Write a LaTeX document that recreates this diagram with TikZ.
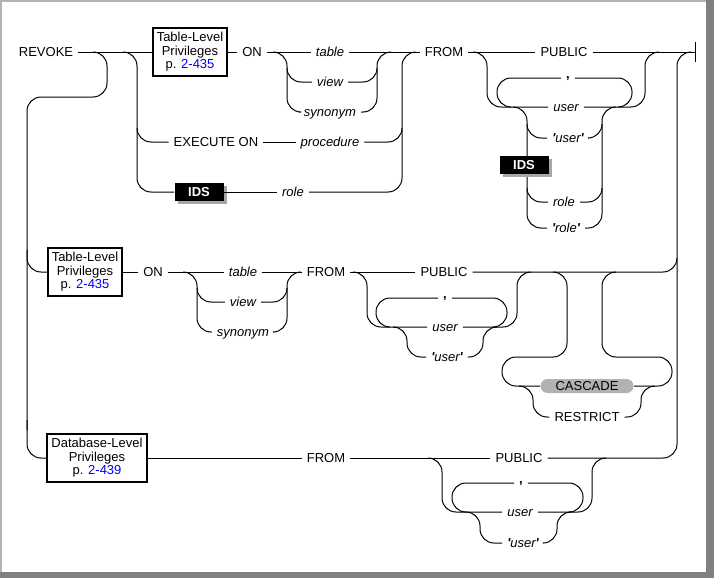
\documentclass[tikz,border=0pt]{standalone}
\usepackage{fontspec}
\setmainfont{Liberation Sans}
\usetikzlibrary{shadows}
\newcommand{\rfont}{\fontsize{9.75}{10.2}\selectfont}
\newcommand{\quoted}[1]{\textbf{\textquotesingle}#1\textbf{\textquotesingle}}

\begin{document}
\begin{tikzpicture}[x=0.75pt,y=-0.75pt,line width=0.75pt,font=\rfont,
  rr/.style={rounded corners=10.5pt},
  kw/.style={inner xsep=3.5pt,inner ysep=0pt,text height=7pt,text depth=0pt},
  var/.style={kw,font=\rfont\itshape},
  sep/.style={kw,text height=0pt,font=\rfont\bfseries},
  ref/.style={draw,line width=1.5pt,align=center,inner xsep=3pt,inner ysep=3.5pt,fill=white},
  ids/.style={fill=black,text=white,font=\rfont\bfseries,minimum width=36.75pt,
    minimum height=13.5pt,inner sep=0pt,
    drop shadow={shadow xshift=2.25pt,shadow yshift=-2.25pt,fill=gray!70,opacity=1}},
  pill/.style={kw,fill=gray!60,rounded corners=5.25pt,minimum width=69.75pt,minimum height=10.5pt}]
\useasboundingbox (0,0) rectangle (714,578);

% frame
\draw[gray!60,line width=1.5pt] (1,578) -- (1,1) -- (706,1);
\fill[gray] (706,0) rectangle (714,578);
\fill[gray] (0,572) rectangle (714,578);

% first row
\node[kw] (revoke) at (46,52) {REVOKE};
\node[ref] (tlpA) at (190,52) {Table-Level\\Privileges\\p. \textcolor{blue}{2-435}};
\node[kw] (onA) at (252,52) {ON};
\node[var] (tableA) at (330,52) {table};
\node[var] (viewA) at (330,82) {view};
\node[var] (synA) at (330,112) {synonym};
\node[kw] (execon) at (216,142) {EXECUTE ON};
\node[var] (procA) at (330,142) {procedure};
\node[var] (roleA) at (293,192) {role};
\node[kw] (fromA) at (444,52) {FROM};
\node[kw] (publicA) at (564,52) {PUBLIC};
\node[sep] (commaA) at (568,78) {,};
\node[var] (userA) at (566,107) {user};
\node[var] (quserA) at (568,138) {\quoted{user}};
\node[var] (roleB) at (564,202) {role};
\node[var] (qroleB) at (566,228) {\quoted{role}};
\coordinate (endA) at (695,52);

\draw (revoke) -- (tlpA) -- (onA) -- (tableA) -- (fromA) -- (publicA) -- (endA);
\draw (695,42) -- (695,62);
\draw[rr] (93,52) -- (107,52) -- (107,97) -- (27,97) |- (27,430);
\draw[rr] (273,52) -- (287,52) |- (synA.west);
\draw[rr] (287,68) |- (viewA.west);
\draw[rr] (synA.east) -| (377,52) -- (391,52);
\draw[rr] (viewA.east) -| (377,68);
\draw[rr] (137,128) |- (execon.west);
\draw (execon) -- (procA);
\draw[rr] (roleA.east) -| (402,52) -- (416,52);
\draw[rr] (procA.east) -| (402,128);
\draw[rr] (473,52) -- (487,52) |- (userA.west);
\draw[rr] (commaA.west) -- (497,78) |- (511,107);
\draw[rr] (commaA.east) -- (632,78) |- (618,107);
\draw[rr] (userA.east) -| (645,52) -- (659,52);
\draw[rr] (513,107) -- (527,107) |- (qroleB.west);
\draw[rr] (527,124) |- (quserA.west);
\draw[rr] (527,188) |- (roleB.west);
\draw[rr] (qroleB.east) -| (602,107) -- (616,107);
\draw[rr] (quserA.east) -| (602,124);
\draw[rr] (roleB.east) -| (602,188);
\node[ids] (idsA) at (199,192) {IDS};
\node[ids] (idsB) at (524,165) {IDS};
\draw[rr] (123,52) -- (137,52) |- (idsA.west);
\draw (idsA) -- (roleA);

% second row
\node[ref] (tlpB) at (85,272) {Table-Level\\Privileges\\p. \textcolor{blue}{2-435}};
\node[kw] (onB) at (153,272) {ON};
\node[var] (tableB) at (243,272) {table};
\node[var] (viewB) at (243,302) {view};
\node[var] (synB) at (243,332) {synonym};
\node[kw] (fromB) at (326,272) {FROM};
\node[kw] (publicB) at (444,272) {PUBLIC};
\node[sep] (commaB) at (445,298) {,};
\node[var] (userB) at (445,327) {user};
\node[var] (quserB) at (447,357) {\quoted{user}};
\node[pill] (cascade) at (587,386) {CASCADE};
\node[kw] (restrict) at (587,417) {RESTRICT};

\draw[rr] (27,250) |- (tlpB.west);
\draw (tlpB) -- (onB) -- (tableB) -- (fromB) -- (publicB);
\draw[rr] (183,272) -- (197,272) |- (synB.west);
\draw[rr] (197,288) |- (viewB.west);
\draw[rr] (synB.east) -| (287,272) -- (301,272);
\draw[rr] (viewB.east) -| (287,288);
\draw[rr] (353,272) -- (367,272) |- (userB.west);
\draw[rr] (commaB.west) -- (376,298) |- (390,327);
\draw[rr] (commaB.east) -- (507,298) |- (493,327);
\draw[rr] (393,327) -- (407,327) |- (quserB.west);
\draw[rr] (quserB.east) -| (483,327) -- (497,327);
\draw[rr] (userB.east) -| (517,272) -- (531,272);
\draw[rr] (publicB.east) -| (677,258);
\draw[rr] (553,272) -- (567,272) |- (502,357) |- (cascade.west);
\draw[rr] (cascade.east) -- (672,386) |- (602,357) |- (616,272);
\draw[rr] (519,386) -- (533,386) |- (restrict.west);
\draw[rr] (restrict.east) -| (641,386) -- (655,386);

% third row
\node[ref] (dbl) at (97,458) {Database-Level\\Privileges\\p. \textcolor{blue}{2-439}};
\node[kw] (fromC) at (326,458) {FROM};
\node[kw] (publicC) at (519,458) {PUBLIC};
\node[sep] (commaC) at (521,483) {,};
\node[var] (userC) at (520,512) {user};
\node[var] (quserC) at (523,543) {\quoted{user}};

\draw[rr] (27,420) |- (dbl.west);
\draw (dbl) -- (fromC) -- (publicC);
\draw[rr] (428,458) -- (442,458) |- (userC.west);
\draw[rr] (commaC.west) -- (452,483) |- (466,512);
\draw[rr] (commaC.east) -- (583,483) |- (569,512);
\draw[rr] (466,512) -- (480,512) |- (quserC.west);
\draw[rr] (quserC.east) -| (557,512) -- (571,512);
\draw[rr] (userC.east) -| (592,458) -- (606,458);
\draw[rr] (publicC.east) -| (677,52) -- (691,52);
\end{tikzpicture}
\end{document}
